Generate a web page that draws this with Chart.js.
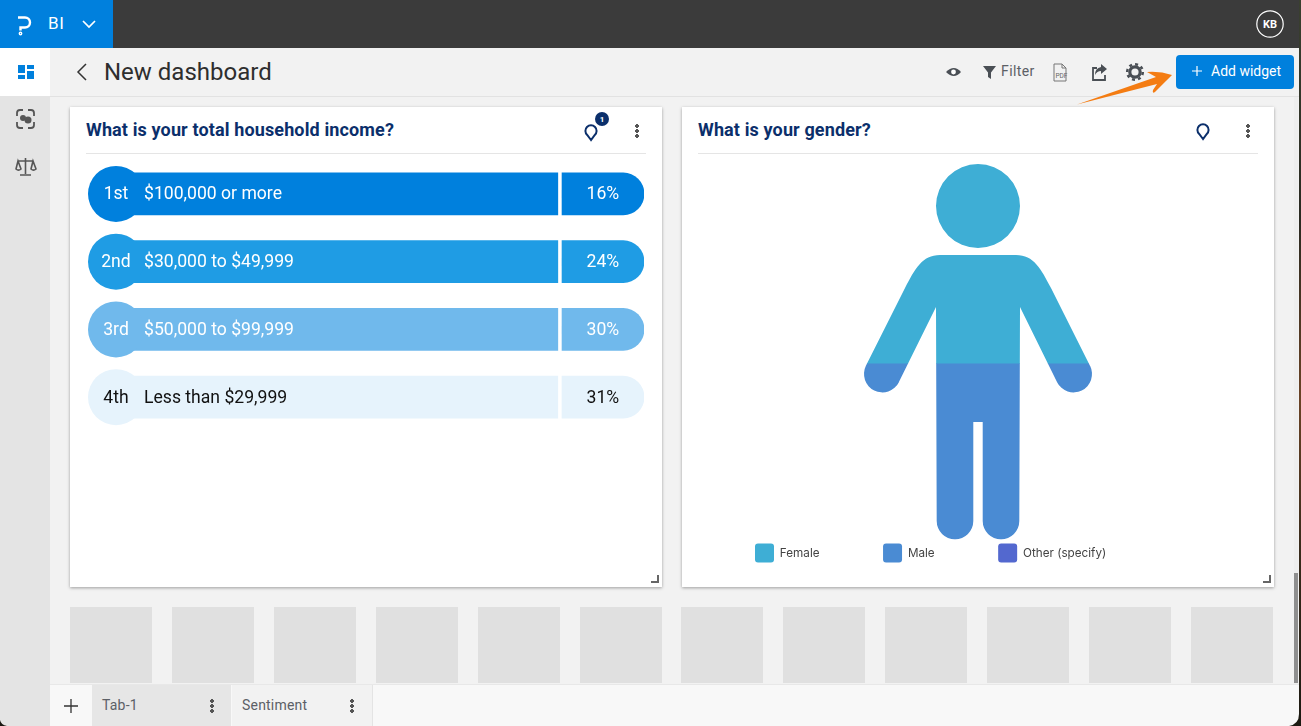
<!DOCTYPE html>
<html>
<head>
<meta charset="utf-8">
<title>New dashboard</title>
<script src="https://cdn.jsdelivr.net/npm/chart.js@4/dist/chart.umd.min.js"></script>
<style>
  * { box-sizing: border-box; }
  html, body { margin: 0; width: 1301px; height: 726px; overflow: hidden; background: #f2f2f2; font-family: Roboto, sans-serif; }
  .abs, .abs svg { position: absolute; }
  .abs { white-space: nowrap; }
  .topbar { left: 0; top: 0; width: 1301px; height: 48px; background: #3b3b3b; }
  .brand { left: 0; top: 0; width: 113px; height: 48px; background: #0080dd; }
  .sidebar { left: 0; top: 48px; width: 50px; height: 678px; background: #e4e4e4; }
  .sideactive { left: 0; top: 48px; width: 50px; height: 48px; background: #fff; }
  .headline { left: 50px; top: 96px; width: 1251px; height: 1px; background: #e2e2e2; }
  .card { background: #fff; width: 592px; height: 480px; top: 107px; box-shadow: 0 1px 3px rgba(0,0,0,.35); }
  .title { top: 118px; font-size: 18px; font-weight: 700; color: #0b2f6b; letter-spacing: .13px; line-height: 23px; }
  .rule { top: 153px; width: 560px; height: 1px; background: #e5e5e5; }
  .holder { top: 607px; width: 82px; height: 76px; background: #e0e0e0; }
  .bottombar { left: 50px; top: 684px; width: 1251px; height: 42px; background: #f8f8f8; border-top: 1px solid #e8e8e8; }
  .tab { top: 685px; height: 41px; font-size: 14px; color: #5c6066; letter-spacing: .2px; line-height: 40px; padding-left: 10px; }
  .dots { width: 4px; height: 14px; background: radial-gradient(circle at 2px 2px, #555 1.9px, transparent 2.1px) 0 0 / 4px 5px; }
  .add { left: 1176px; top: 55px; width: 118px; height: 34px; background: #0080dd; border-radius: 4px; color: #fff; font-size: 14px; line-height: 33px; padding-left: 35px; }
  .chartbox { position: absolute; }
</style>
</head>
<body>
<div class="abs topbar"></div>
<div class="abs brand"></div>
<svg class="abs" style="left:0;top:0" width="113" height="48" fill="none" stroke="#fff" stroke-width="2.4">
  <path d="M18 17.500h7a5 5 0 0 1 0 10h-4.500v3"/><circle cx="20.500" cy="33.500" r="0.700"/>
  <path d="M83 21l6 6 6-6" stroke-width="1.700"/>
</svg>
<div class="abs" style="left:48px;top:13px;color:#fff;font-size:17px;letter-spacing:.6px">BI</div>
<svg class="abs" style="left:1256px;top:10px" width="28" height="28"><circle cx="14" cy="14" r="13.200" fill="none" stroke="#fff" stroke-width="1.200"/><text x="14" y="18" text-anchor="middle" fill="#fff" font-size="11" font-weight="700" font-family="Roboto">KB</text></svg>

<div class="abs sidebar"></div>
<div class="abs sideactive"></div>
<svg class="abs" style="left:0;top:48px" width="50" height="140">
  <g fill="#0080dd"><rect x="18" y="17" width="7" height="8"/><rect x="27" y="17" width="7" height="4"/><rect x="18" y="27" width="7" height="4"/><rect x="27" y="23" width="7" height="8"/></g>
  <g fill="none" stroke="#555" stroke-width="1.800"><path d="M17 68v-3a3 3 0 0 1 3-3h3M28 62h3a3 3 0 0 1 3 3v3M34 74v3a3 3 0 0 1-3 3h-3M23 80h-3a3 3 0 0 1-3-3v-3"/></g>
  <circle cx="23" cy="70" r="3" fill="#555"/><circle cx="28" cy="72" r="3.500" fill="#555"/>
  <g fill="none" stroke="#555" stroke-width="1.600"><path d="M25.500 110v16M20 127h11M18 113h15M18 113l-2 8a3.500 3 0 0 0 5 0zM33 113l-2 8a3.500 3 0 0 0 5 0z"/></g>
</svg>

<svg class="abs" style="left:75px;top:62px" width="14" height="20" fill="none" stroke="#333" stroke-width="1.500"><path d="M11 2L3 10l8 8"/></svg>
<div class="abs" style="left:104px;top:57px;font-size:24px;color:#2e2e2e;letter-spacing:0;line-height:30px">New dashboard</div>
<div class="abs headline"></div>

<svg class="abs" style="left:940px;top:55px" width="236" height="34">
  <path d="M6 17q8-8 15 0q-7 8-15 0z" fill="#4a4f55"/><circle cx="13.500" cy="17" r="2.400" fill="#fff"/>
  <path d="M43 11h13l-5 6.500v6.500l-3-2v-4.500z" fill="#4a4f55"/>
  <g fill="none" stroke="#777" stroke-width="1"><path d="M114 9h8l4 4v13h-12zM122 9v4h4"/></g>
  <text x="115.500" y="23" font-size="6.500" font-family="Roboto" fill="#666">PDF</text>
  <g fill="none" stroke="#4a4f55" stroke-width="1.800"><path d="M157 13h-4v12h12v-5"/></g>
  <path d="M161 9l6 5-6 5v-3q-4 0-6 4q0-7 6-8z" fill="#4a4f55"/>
  <circle cx="195" cy="17" r="5.200" fill="none" stroke="#4a4f55" stroke-width="3.200"/>
  <circle cx="195" cy="17" r="7.800" fill="none" stroke="#4a4f55" stroke-width="2.500" stroke-dasharray="3 3.100"/>
</svg>
<div class="abs" style="left:1001px;top:63px;font-size:14px;color:#5c6066;letter-spacing:.4px">Filter</div>
<div class="abs add">Add widget</div>
<svg class="abs" style="left:1190px;top:63px" width="14" height="16" stroke="#fff" stroke-width="1.200"><path d="M7 3v10M2 8h10"/></svg>

<div class="abs card" style="left:70px"></div>
<div class="abs card" style="left:682px"></div>
<div class="abs title" style="left:86px">What is your total household income?</div>
<div class="abs title" style="left:698px">What is your gender?</div>
<div class="abs rule" style="left:86px"></div>
<div class="abs rule" style="left:698px"></div>

<svg class="abs" style="left:580px;top:108px" width="30" height="36">
  <circle cx="22" cy="11" r="7" fill="#0b2f6b"/><text x="22" y="14" text-anchor="middle" font-size="8" font-weight="700" font-family="Roboto" fill="#fff">1</text>
  <path d="M11 32L7.200 27A5.600 5.600 0 1 1 14.800 27Z" fill="none" stroke="#0b2f6b" stroke-width="2"/>
</svg>
<svg class="abs" style="left:1192px;top:118px" width="24" height="26">
  <path d="M11 21L7.200 16A5.600 5.600 0 1 1 14.800 16Z" fill="none" stroke="#0b2f6b" stroke-width="2"/>
</svg>
<div class="abs dots" style="left:635px;top:124px"></div>
<div class="abs dots" style="left:1246px;top:124px"></div>
<svg class="abs" style="left:650px;top:575px" width="10" height="10" fill="none" stroke="#666" stroke-width="2"><path d="M1 7h7V0"/></svg>
<svg class="abs" style="left:1262px;top:575px" width="10" height="10" fill="none" stroke="#666" stroke-width="2"><path d="M1 7h7V0"/></svg>

<div class="chartbox" style="left:88px;top:160px;width:556px;height:271px"><canvas id="incomeChart"></canvas></div>
<div class="chartbox" style="left:690px;top:164px;width:576px;height:406px"><canvas id="genderChart"></canvas></div>

<div id="holders"></div>
<div class="abs bottombar"></div>
<svg class="abs" style="left:62px;top:697px" width="18" height="18" stroke="#333" stroke-width="1.300"><path d="M9 2v14M2 9h14"/></svg>
<div class="abs tab" style="left:92px;width:139px;background:#e6e6e6">Tab-1</div>
<div class="abs tab" style="left:232px;width:141px;background:#f2f2f2;border-right:1px solid #e4e4e4">Sentiment</div>
<div class="abs dots" style="left:210px;top:699px"></div>
<div class="abs dots" style="left:350px;top:699px"></div>

<svg class="abs" style="left:1070px;top:65px" width="110" height="45"><path d="M7 39.500L86 12L77 7Q90 6 102 10Q92 20 85 27Q82 29 83 25L87 19Z" fill="#f47c12"/></svg>

<!-- scrollbar and window edge -->
<div class="abs" style="left:1294px;top:97px;width:4px;height:587px;background:#eeeeee"></div>
<div class="abs" style="left:1294px;top:573px;width:4px;height:110px;background:#8f8f8f"></div>
<div class="abs" style="left:1299px;top:0;width:2px;height:726px;background:linear-gradient(#3a4030,#2a2a22 30%,#6a4326 55%,#3a2c1c 75%,#1c1a12)"></div>
<svg class="abs" style="left:0;top:718px" width="8" height="8"><path d="M0 2Q1 7 7 8H0Z" fill="#1a1812"/></svg>
<svg class="abs" style="left:1289px;top:714px" width="12" height="12"><path d="M10 0Q10 10 0 12H12V0Z" fill="#1c1a12"/></svg>

<script>
const ranks = ["1st", "2nd", "3rd", "4th"];
const incomeLabels = ["$100,000 or more", "$30,000 to $49,999", "$50,000 to $99,999", "Less than $29,999"];
const incomeValues = [16, 24, 30, 31];
const incomeColors = ["#0080dd", "#1f9ce4", "#70b9ec", "#e6f3fc"];
const incomeText = ["#fff", "#fff", "#fff", "#111"];

const genderLabels = ["Female", "Male", "Other (specify)"];
const genderValues = [53, 47, 0];
const genderColors = ["#3eaed5", "#4a8bd3", "#5368cf"];

// placeholder row under the cards
const holders = document.getElementById("holders");
for (let i = 0; i < 12; i++) {
  holders.innerHTML += `<div class="abs holder" style="left:${70 + i * 101.9}px"></div>`;
}

// ---------- INCOME RANKING ----------
const rowFont = "17.6px Roboto, sans-serif";

const rankPlugin = {
  id: "rankPlugin",
  afterDatasetsDraw(chart) {
    const ctx = chart.ctx;
    const x = chart.scales.x;
    const y = chart.scales.y;
    ctx.save();
    ctx.font = rowFont;
    ctx.textBaseline = "middle";
    incomeLabels.forEach((label, i) => {
      const cy = y.getPixelForValue(i);
      // rank badge
      ctx.fillStyle = incomeColors[i];
      ctx.beginPath();
      ctx.arc(x.left + 28, cy, 28, 0, Math.PI * 2);
      ctx.fill();
      ctx.fillStyle = incomeText[i];
      ctx.textAlign = "center";
      ctx.fillText(ranks[i], x.left + 28, cy + 1);
      ctx.fillText(incomeValues[i] + "%", x.getPixelForValue(92.6), cy + 1);
      ctx.textAlign = "left";
      ctx.fillText(label, x.left + 56, cy + 1);
    });
    ctx.restore();
  }
};

new Chart(document.getElementById("incomeChart"), {
  type: "bar",
  data: {
    labels: incomeLabels,
    datasets: [
      {
        label: "Answer",
        data: incomeLabels.map(() => [5, 84.5]),
        backgroundColor: incomeColors,
        borderSkipped: false
      },
      {
        label: "Share",
        data: incomeLabels.map(() => [85.25, 100]),
        backgroundColor: incomeColors,
        borderSkipped: false,
        borderRadius: { topLeft: 0, bottomLeft: 0, topRight: 21, bottomRight: 21 }
      }
    ]
  },
  options: {
    indexAxis: "y",
    responsive: true,
    maintainAspectRatio: false,
    animation: false,
    grouped: false,
    barThickness: 42,
    scales: {
      x: { min: 0, max: 100, display: false },
      y: { display: false }
    },
    plugins: { legend: { display: false }, tooltip: { enabled: false } }
  },
  plugins: [rankPlugin]
});

// ---------- GENDER PICTOGRAM ----------
function personPath(ctx) {
  // silhouette in a 228 x 376 box
  ctx.beginPath();
  ctx.arc(114, 42, 42, 0, Math.PI * 2);
  ctx.closePath();
  ctx.moveTo(76, 91);
  ctx.lineTo(152, 91);
  ctx.bezierCurveTo(170, 91, 177, 105, 187, 124);
  ctx.lineTo(226.1, 201.9);
  ctx.arc(209.6, 210, 18.4, -0.458, 2.683);
  ctx.lineTo(156, 143);
  ctx.lineTo(155.3, 357);
  ctx.arc(137, 357, 18.3, 0, Math.PI);
  ctx.lineTo(118.7, 258);
  ctx.lineTo(109.3, 258);
  ctx.lineTo(109.3, 357);
  ctx.arc(91, 357, 18.3, 0, Math.PI);
  ctx.lineTo(72, 143);
  ctx.lineTo(34.9, 218.1);
  ctx.arc(18.4, 210, 18.4, 0.458, 3.6);
  ctx.lineTo(41, 124);
  ctx.bezierCurveTo(51, 105, 58, 91, 76, 91);
  ctx.closePath();
}

const personPlugin = {
  id: "personPlugin",
  beforeDraw(chart) {
    // legend sits right under the figure
    chart.legend.top = chart.scales.y.bottom + 3.5 - chart.options.plugins.legend.labels.padding;
    chart.legend.left = chart.chartArea.left + 1.5;
  },
  beforeDatasetsDraw(chart) {
    const ctx = chart.ctx;
    const area = chart.chartArea;
    ctx.save();
    ctx.translate((area.left + area.right) / 2 - 114, area.top);
    personPath(ctx);
    ctx.clip();
    ctx.translate(-((area.left + area.right) / 2 - 114), -area.top);
  },
  afterDatasetsDraw(chart) {
    chart.ctx.restore();
  }
};

new Chart(document.getElementById("genderChart"), {
  type: "bar",
  data: {
    labels: ["What is your gender?"],
    datasets: genderLabels.map((label, i) => ({
      label: label,
      data: [genderValues[i]],
      backgroundColor: genderColors[i],
      borderColor: genderColors[i],
      barThickness: 228
    }))
  },
  options: {
    responsive: true,
    maintainAspectRatio: false,
    animation: false,
    scales: {
      x: { stacked: true, display: false },
      y: { stacked: true, reverse: true, min: 0, max: 100, display: false }
    },
    plugins: {
      tooltip: { enabled: false },
      legend: {
        position: "bottom",
        align: "start",
        maxHeight: 30,
        labels: {
          padding: 63.5,
          boxWidth: 19,
          boxHeight: 19,
          useBorderRadius: true,
          borderRadius: 3,
          color: "#444",
          font: { family: "Inter, sans-serif", size: 11.7 }
        }
      }
    }
  },
  plugins: [personPlugin]
});
</script>
</body>
</html>
